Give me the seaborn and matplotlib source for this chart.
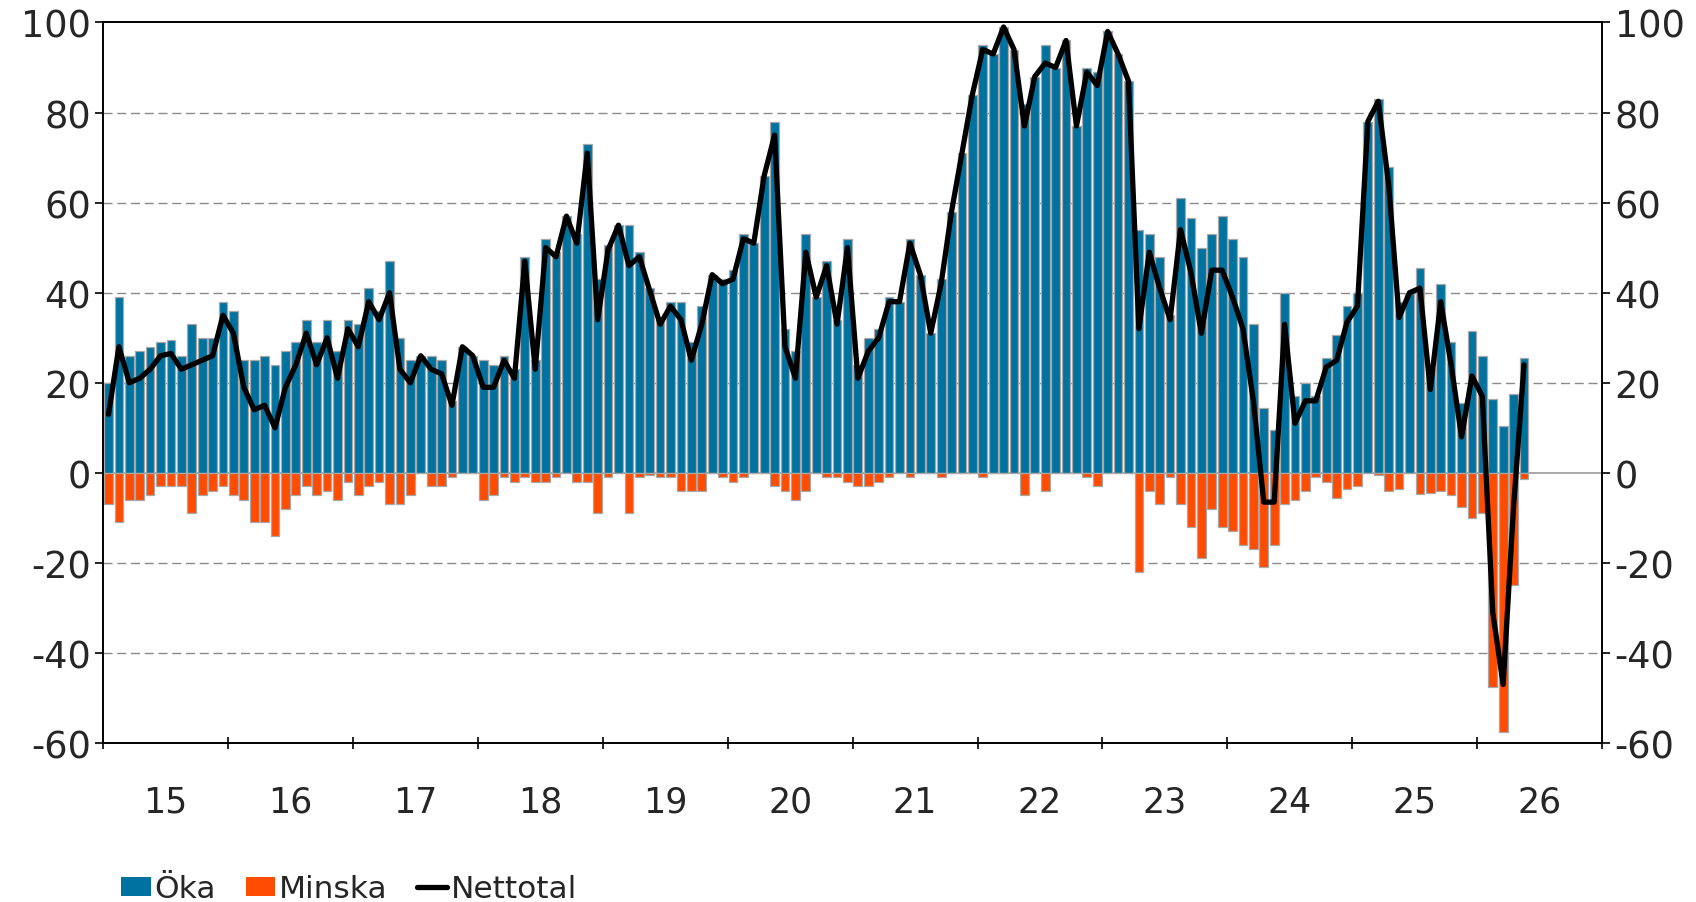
import numpy as np
import pandas as pd
import seaborn as sns
import matplotlib.pyplot as plt
from matplotlib.patches import Patch
from matplotlib.lines import Line2D

sns.set_theme(style="ticks")
plt.rcParams["font.family"] = ["DejaVu Sans"]
plt.rcParams["axes.unicode_minus"] = False

# monthly survey, Jan 2015 - May 2026
years = ["15", "16", "17", "18", "19", "20", "21", "22", "23", "24", "25", "26"]

oka = [
    20, 39, 26, 27, 28, 29, 29.5, 26, 33, 30, 30, 38,          # 2015
    36, 25, 25, 26, 24, 27, 29, 34, 29, 34, 27, 34,            # 2016
    33, 41, 36, 47, 30, 25, 26, 26, 25, 16, 28, 26,            # 2017
    25, 24, 26, 23, 48, 25, 52, 49, 57, 53, 73, 43,            # 2018
    50.5, 55, 55, 49, 41, 34, 38, 38, 29, 37, 44, 43,          # 2019
    45, 53, 51, 66, 78, 32, 27, 53, 39, 47, 34, 52,            # 2020
    24, 30, 32, 39, 38, 52, 44, 31, 43, 58, 71, 84,            # 2021
    95, 93, 99, 94, 82, 88, 95, 90, 96, 77, 90, 89,            # 2022
    98, 93, 87, 54, 53, 48, 35, 61, 56.5, 50, 53, 57,          # 2023
    52, 48, 33, 14.5, 9.5, 40, 17, 20, 17, 25.5, 30.5, 37,     # 2024
    40, 78, 83, 68, 38, 40, 45.5, 23, 42, 29, 15.5, 31.5,      # 2025
    26, 16.5, 10.5, 17.5, 25.5,                                # 2026
]
minska = [
    -7, -11, -6, -6, -5, -3, -3, -3, -9, -5, -4, -3,
    -5, -6, -11, -11, -14, -8, -5, -3, -5, -4, -6, -2,
    -5, -3, -2, -7, -7, -5, 0, -3, -3, -1, 0, 0,
    -6, -5, -1, -2, -1, -2, -2, -1, 0, -2, -2, -9,
    -1, 0, -9, -1, -0.5, -1, -1, -4, -4, -4, 0, -1,
    -2, -1, 0, 0, -3, -4, -6, -4, 0, -1, -1, -2,
    -3, -3, -2, -1, 0, -1, 0, 0, -1, 0, 0, 0,
    -1, 0, 0, 0, -5, 0, -4, 0, 0, 0, -1, -3,
    0, 0, 0, -22, -4, -7, -1, -7, -12, -19, -8, -12,
    -13, -16, -17, -21, -16, -7, -6, -4, -1, -2, -5.5, -3.5,
    -3, 0, -0.5, -4, -3.5, 0, -4.7, -4.5, -4, -5, -7.5, -10,
    -9, -47.5, -57.5, -25, -1.3,
]
nettotal = [
    13, 28, 20, 21, 23, 26, 26.5, 23, 24, 25, 26, 35,
    31, 19, 14, 15, 10, 19, 24, 31, 24, 30, 21, 32,
    28, 38, 34, 40, 23, 20, 26, 23, 22, 15, 28, 26,
    19, 19, 25, 21, 47, 23, 50, 48, 57, 51, 71, 34,
    49.5, 55, 46, 48, 40.5, 33, 37, 34, 25, 33, 44, 42,
    43, 52, 51, 66, 75, 28, 21, 49, 39, 46, 33, 50,
    21, 27, 30, 38, 38, 51, 44, 31, 42, 58, 71, 84,
    94, 93, 99, 94, 77, 88, 91, 90, 96, 77, 89, 86,
    98, 93, 87, 32, 49, 41, 34, 54, 44.5, 31, 45, 45,
    39, 32, 16, -6.5, -6.5, 33, 11, 16, 16, 23.5, 25, 33.5,
    37, 78, 82.5, 64, 34.5, 40, 41, 18.5, 38, 24, 8, 21.5,
    17, -31, -47, -7.5, 24,
]

blue = "#0072A0"
orange = "#FF4C00"

df = pd.DataFrame({"month": np.arange(len(oka)), "oka": oka,
                   "minska": minska, "netto": nettotal})

fig = plt.figure(figsize=(16.96, 9.03), dpi=100)
ax = fig.add_axes([0.0609, 0.176, 0.8837, 0.798])

ax.axhline(0, color="#9a9a9a", lw=1.2, zorder=1)
for v in [80, 60, 40, 20, -20, -40]:
    ax.axhline(v, color="#8a8a8a", lw=1.0, ls=(0, (6.5, 3.4)), zorder=0)

bar_kw = dict(native_scale=True, width=0.84, saturation=1, errorbar=None,
              edgecolor="#a8a8a8", linewidth=0.9, ax=ax, zorder=2)
sns.barplot(data=df, x="month", y="oka", color=blue, **bar_kw)
sns.barplot(data=df, x="month", y="minska", color=orange, **bar_kw)
sns.lineplot(data=df, x="month", y="netto", color="black", lw=3.8, ax=ax, zorder=3)

n_months = 12 * len(years)
ax.set_xlim(-0.5, n_months - 0.5)
ax.set_ylim(-60, 100)
ax.set_xlabel("")
ax.set_ylabel("")

ax.set_xticks(np.arange(-0.5, n_months, 12))
ax.set_xticklabels([])
ax.set_xticks(np.arange(5.5, n_months, 12), minor=True)
ax.set_xticklabels(years, minor=True)
ax.tick_params(axis="x", which="major", direction="inout", length=9, width=1.2, color="black")
ax.tick_params(axis="x", which="minor", length=0, pad=30, labelsize=25)

yt = np.arange(-60, 101, 20)
ax.set_yticks(yt)
ax.set_yticklabels([str(v) for v in yt])
ax.tick_params(axis="y", left=True, right=True, labelleft=True, labelright=True,
               direction="out", length=6, width=1.2, color="black", pad=3, labelsize=26.5)

for s in ax.spines.values():
    s.set_visible(True)
    s.set_color("black")
    s.set_linewidth(1.4)

handles = [Patch(facecolor=blue, edgecolor="none"),
           Patch(facecolor=orange, edgecolor="none"),
           Line2D([0], [0], color="black", lw=3.8)]
fig.legend(handles, ["Öka", "Minska", "Nettotal"], loc="center left",
           bbox_to_anchor=(121 / 1696, 1 - 890 / 903), ncol=3, frameon=False,
           fontsize=22.5, handlelength=0.95, handleheight=0.6, handletextpad=0.12,
           columnspacing=0.95, borderpad=0, borderaxespad=0)

plt.savefig("out.png", dpi=100)
